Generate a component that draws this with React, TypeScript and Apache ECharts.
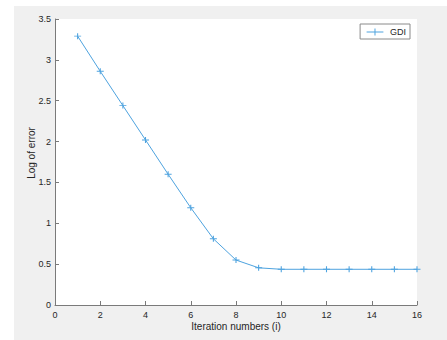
import React, { useEffect, useRef } from "react";
import * as echarts from "echarts";

const iterations = [1, 2, 3, 4, 5, 6, 7, 8, 9, 10, 11, 12, 13, 14, 15, 16];
const gdiValues = [3.29, 2.86, 2.44, 2.02, 1.6, 1.19, 0.81, 0.55, 0.455, 0.437, 0.437, 0.437, 0.437, 0.437, 0.437, 0.437];
const xTicks = [0, 2, 4, 6, 8, 10, 12, 14, 16];
const seriesName = "GDI";

const plusSymbol = "path://M0,-5 L0,5 M-5,0 L5,0";
const lineColor = "#4ea3df";
const axisColor = "#7a7a7a";
const font = "Helvetica, Arial, 'Liberation Sans', sans-serif";

export default function App() {
  const ref = useRef<HTMLDivElement>(null);
  useEffect(() => {
    if (!ref.current) return;
    const chart = echarts.init(ref.current, undefined, { renderer: "svg" });
    chart.setOption({
      animation: false,
      backgroundColor: "#ffffff",
      graphic: [
        {
          type: "rect",
          z: -10,
          silent: true,
          shape: { x: 14, y: 6, width: 433, height: 334 },
          style: { fill: "#f0f0f0" },
        },
      ],
      grid: {
        left: 55,
        top: 19,
        width: 362,
        height: 286,
        show: true,
        backgroundColor: "#ffffff",
        borderWidth: 0,
      },
      legend: {
        show: true,
        right: 37,
        top: 24,
        orient: "vertical",
        backgroundColor: "#ffffff",
        borderColor: "#8a8a8a",
        borderWidth: 1,
        borderRadius: 0,
        padding: [2, 4, 1, 4],
        itemWidth: 22,
        itemHeight: 7,
        itemGap: 0,
        textStyle: { fontSize: 9, color: "#262626", fontFamily: font, padding: [0, 0, 0, -1] },
        data: [
          {
            name: seriesName,
            icon: "path://M0,5 L24,5 M12,0 L12,10",
            itemStyle: { color: "none", borderColor: lineColor, borderWidth: 1 },
          },
        ],
      },
      xAxis: {
        type: "value",
        min: 0,
        max: 16,
        interval: 2,
        name: "Iteration numbers (i)",
        nameLocation: "middle",
        nameGap: 16,
        nameMoveOverlap: false,
        nameTextStyle: { fontSize: 10, color: "#262626", fontFamily: font },
        axisLine: { show: true, lineStyle: { color: axisColor, width: 1 } },
        axisTick: { show: true, inside: true, length: 4, lineStyle: { color: axisColor } },
        axisLabel: {
          fontSize: 9,
          color: "#262626",
          fontFamily: font,
          margin: 5,
          formatter: (v: number) => (xTicks.includes(v) ? String(v) : ""),
        },
        splitLine: { show: false },
      },
      yAxis: {
        type: "value",
        min: 0,
        max: 3.5,
        interval: 0.5,
        name: "Log of error",
        nameLocation: "middle",
        nameGap: 19,
        nameRotate: 90,
        nameMoveOverlap: false,
        nameTextStyle: { fontSize: 10, color: "#262626", fontFamily: font, padding: [0, 0, 0, 18] },
        axisLine: { show: true, lineStyle: { color: axisColor, width: 1 } },
        axisTick: { show: true, inside: true, length: 4, lineStyle: { color: axisColor } },
        axisLabel: { fontSize: 9, color: "#262626", fontFamily: font, margin: 4 },
        splitLine: { show: false },
      },
      series: [
        {
          name: seriesName,
          type: "line",
          data: iterations.map((x, i) => [x, gdiValues[i]]),
          symbol: plusSymbol,
          symbolSize: [7, 6],
          showAllSymbol: true,
          lineStyle: { color: lineColor, width: 1 },
          itemStyle: { color: "none", borderColor: lineColor, borderWidth: 1 },
          emphasis: { disabled: true },
        },
      ],
    });
    return () => chart.dispose();
  }, []);
  return (
    <div
      ref={ref}
      style={{ position: "absolute", left: 0, top: 0, width: 447, height: 340 }}
    />
  );
}
